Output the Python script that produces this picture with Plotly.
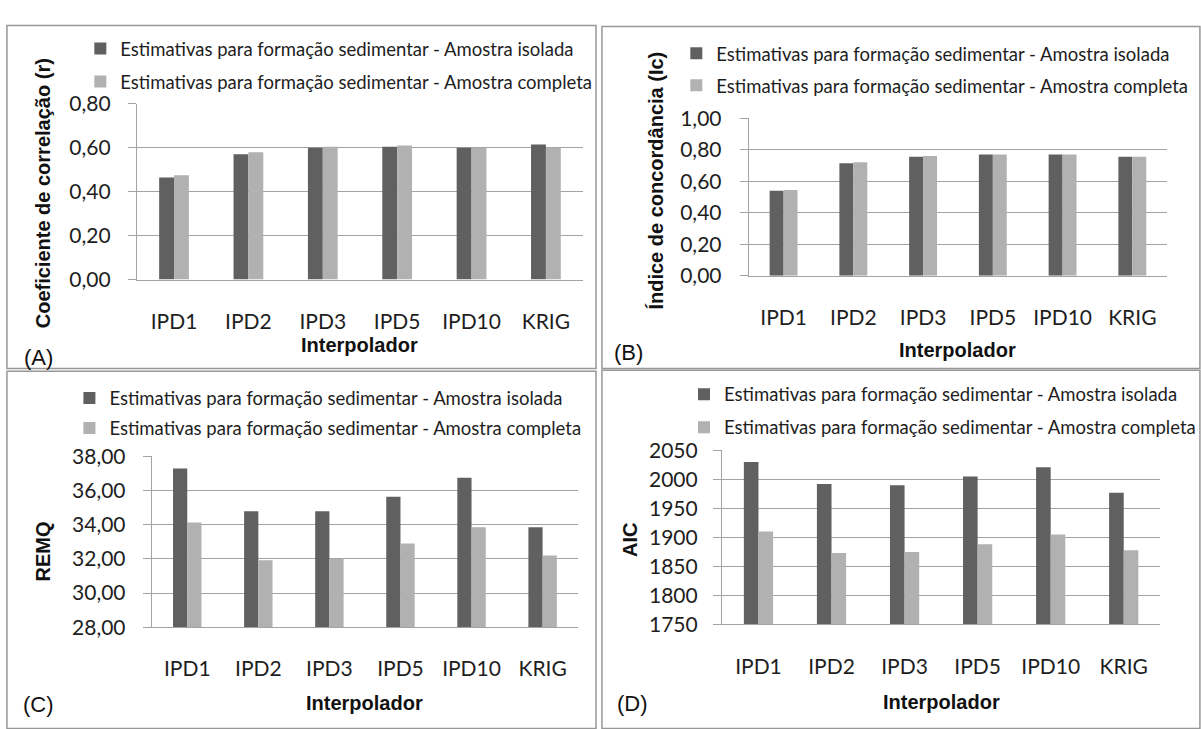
import plotly.graph_objects as go

# ---------------- data ----------------
categorias = ["IPD1", "IPD2", "IPD3", "IPD5", "IPD10", "KRIG"]
serie_isolada = "Estimativas para formação sedimentar - Amostra isolada"
serie_completa = "Estimativas para formação sedimentar - Amostra completa"

r_isolada = [0.465, 0.57, 0.60, 0.605, 0.60, 0.615]
r_completa = [0.475, 0.58, 0.605, 0.61, 0.60, 0.60]

ic_isolada = [0.54, 0.715, 0.755, 0.77, 0.77, 0.755]
ic_completa = [0.545, 0.72, 0.76, 0.77, 0.77, 0.755]

remq_isolada = [37.28, 34.79, 34.79, 35.64, 36.74, 33.85]
remq_completa = [34.13, 31.92, 32.00, 32.90, 33.85, 32.19]

aic_isolada = [2030, 1992, 1990, 2005, 2021, 1977]
aic_completa = [1910, 1873, 1875, 1888, 1905, 1878]

titulos_y = ["Coeficiente de correlação (r)", "Índice de concordância (Ic)", "REMQ", "AIC"]
titulo_x = "Interpolador"
rotulos_painel = ["(A)", "(B)", "(C)", "(D)"]

# ---------------- styling ----------------
W, H = 1201, 729
COR_ESCURA = "#606060"
COR_CLARA = "#b1b1b1"
COR_GRADE = "#a3a3a3"
COR_TEXTO = "#1e1e1e"
FONTE_TICK = dict(family="Lato", size=21, color=COR_TEXTO)
FONTE_LEG = dict(family="Lato", size=18.5, color=COR_TEXTO)
FONTE_TIT = dict(family="Liberation Sans", size=20, color="#111111")


def px(x):
    return x / W


def py(y):
    return 1 - y / H


paineis = [
    dict(ids=("x", "y", "legend"), iso=r_isolada, comp=r_completa,
         xdom=(138, 588), ydom=(275, 93), rng=[0, 0.8], dtick=0.2, fmt=".2f",
         ystd=13, leg=(81, 16.5), gap=6, ytit=(43, 186), xtit=(363, 343), lab=(39, 356)),
    dict(ids=("x2", "y2", "legend2"), iso=ic_isolada, comp=ic_completa,
         xdom=(755, 1177), ydom=(271, 108), rng=[0, 1.0], dtick=0.2, fmt=".2f",
         ystd=14, leg=(682, 21.5), gap=5, ytit=(662, 172), xtit=(966, 348), lab=(634, 351)),
    dict(ids=("x3", "y3", "legend3"), iso=remq_isolada, comp=remq_completa,
         xdom=(153, 583), ydom=(635, 458), rng=[28, 38], dtick=2, fmt=".2f",
         ystd=13, leg=(70, 378.5), gap=3, ytit=(43, 557), xtit=(368, 713), lab=(39, 715)),
    dict(ids=("x4", "y4", "legend4"), iso=aic_isolada, comp=aic_completa,
         xdom=(728, 1170), ydom=(632, 452), rng=[1750, 2050], dtick=50, fmt="d",
         ystd=11, leg=(690, 374.5), gap=6, ytit=(636, 545), xtit=(949, 712), lab=(638, 714)),
]

fig = go.Figure()
layout = dict(
    width=W, height=H,
    margin=dict(l=0, r=0, t=0, b=0),
    paper_bgcolor="white", plot_bgcolor="white",
    barmode="group", bargap=0.6, bargroupgap=0.0,
    separators=",.",
    font=dict(family="Lato", color=COR_TEXTO),
    annotations=[], shapes=[],
)

for i, p in enumerate(paineis):
    xid, yid, legid = p["ids"]
    for nome, vals, cor in ((serie_isolada, p["iso"], COR_ESCURA),
                            (serie_completa, p["comp"], COR_CLARA)):
        fig.add_trace(go.Bar(
            x=categorias, y=vals, name=nome,
            marker=dict(color=cor, line=dict(color=cor, width=0)),
            xaxis=xid, yaxis=yid, legend=legid,
            legendgroup=f"{legid}-{nome}", showlegend=True,
        ))
    xkey = "xaxis" + xid[1:]
    ykey = "yaxis" + yid[1:]
    layout[xkey] = dict(
        domain=[px(p["xdom"][0]), px(p["xdom"][1])], anchor=yid,
        showline=True, linecolor=COR_GRADE, linewidth=1,
        showgrid=False, ticks="", tickfont=FONTE_TICK,
        ticklabelstandoff=23, fixedrange=True,
    )
    layout[ykey] = dict(
        domain=[py(p["ydom"][0]), py(p["ydom"][1])], anchor=xid,
        range=p["rng"], dtick=p["dtick"], tick0=p["rng"][0], tickformat=p["fmt"],
        showline=True, linecolor=COR_GRADE, linewidth=1,
        showgrid=True, gridcolor=COR_GRADE, gridwidth=1, zeroline=False,
        ticks="outside", ticklen=8, tickcolor=COR_GRADE, tickwidth=1,
        tickfont=FONTE_TICK, ticklabelstandoff=p["ystd"], fixedrange=True,
    )
    layout[legid] = dict(
        x=px(p["leg"][0]), y=py(p["leg"][1]), xanchor="left", yanchor="top",
        orientation="v", bgcolor="rgba(0,0,0,0)", borderwidth=0,
        font=FONTE_LEG, itemwidth=30, tracegroupgap=p["gap"],
        traceorder="grouped",
    )
    layout["annotations"] += [
        dict(text=f"<b>{titulos_y[i]}</b>", x=px(p["ytit"][0]), y=py(p["ytit"][1]),
             xref="paper", yref="paper", textangle=-90, showarrow=False,
             xanchor="center", yanchor="middle", font=FONTE_TIT),
        dict(text=f"<b>{titulo_x}</b>", x=px(p["xtit"][0]), y=py(p["xtit"][1]),
             xref="paper", yref="paper", showarrow=False,
             xanchor="center", yanchor="middle", font=FONTE_TIT),
        dict(text=rotulos_painel[i], x=px(p["lab"][0]), y=py(p["lab"][1]),
             xref="paper", yref="paper", showarrow=False,
             xanchor="center", yanchor="middle",
             font=dict(family="Liberation Sans", size=22, color="#111111")),
    ]

# panel frames
for (x0, y0, x1, y1) in [(7, 12, 601, 367), (607, 13, 1210, 367),
                         (7, 370, 601, 740), (607, 369, 1210, 740)]:
    layout["shapes"].append(dict(
        type="rect", xref="paper", yref="paper",
        x0=px(x0), x1=px(x1), y0=py(y1), y1=py(y0),
        line=dict(color="#979797", width=1.5), fillcolor="rgba(0,0,0,0)", layer="below",
    ))

fig.update_layout(**layout)
fig.write_html("out.html")
